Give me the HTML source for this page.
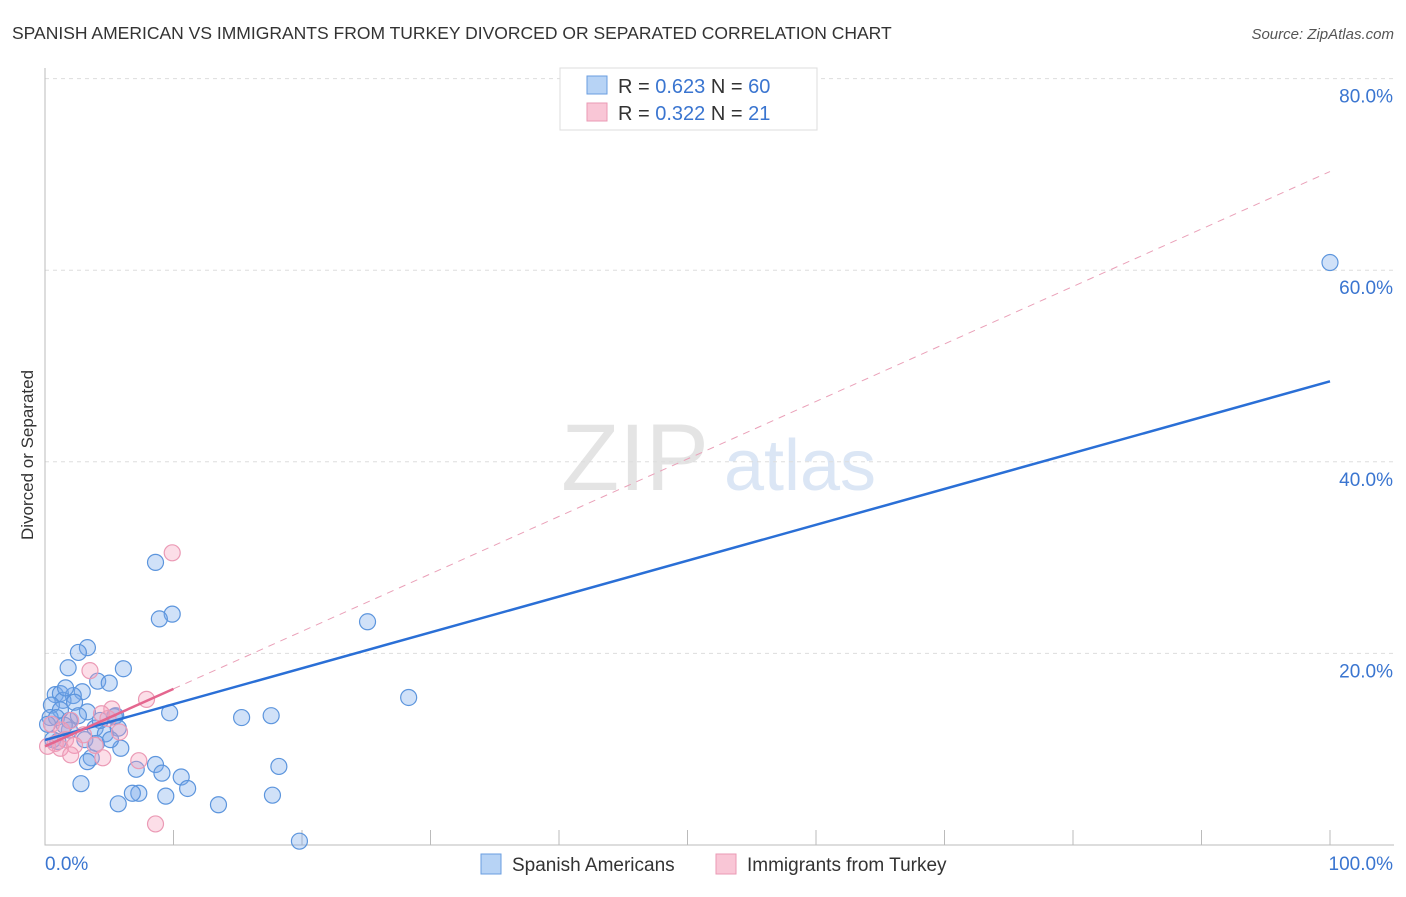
<!DOCTYPE html>
<html><head><meta charset="utf-8"><style>
body{margin:0;background:#fff;font-family:"Liberation Sans",sans-serif}
svg text{font-family:"Liberation Sans",sans-serif}
</style></head><body>
<svg width="1406" height="892" id="c">
<text x="12" y="39" font-size="17.5" fill="#333">SPANISH AMERICAN VS IMMIGRANTS FROM TURKEY DIVORCED OR SEPARATED CORRELATION CHART</text>
<text x="1394" y="39" font-size="15" fill="#555" font-style="italic" text-anchor="end">Source: ZipAtlas.com</text>
<text x="33" y="455" font-size="17" fill="#333" text-anchor="middle" transform="rotate(-90 33 455)">Divorced or Separated</text>
<g><text x="635" y="490" font-size="95" fill="#e4e4e4" font-family="Liberation Serif" text-anchor="middle">ZIP</text><text x="800" y="490" font-size="72" fill="#dbe6f5" text-anchor="middle">atlas</text></g>
<g id="grid"></g><g id="marks"></g>
<g>
<rect x="560" y="68" width="257" height="62" fill="#fff" stroke="#ddd"/>
<rect x="587" y="76" width="20" height="18" fill="#b7d3f5" stroke="#6a9ee0"/>
<rect x="587" y="103" width="20" height="18" fill="#f9c6d6" stroke="#ea9ab4"/>
<text x="618" y="93" font-size="20" fill="#333">R = <tspan fill="#3a75d0">0.623</tspan>   N = <tspan fill="#3a75d0">60</tspan></text>
<text x="618" y="120" font-size="20" fill="#333">R = <tspan fill="#3a75d0">0.322</tspan>   N =  <tspan fill="#3a75d0">21</tspan></text>
</g>
<g>
<rect x="481" y="854" width="20" height="20" fill="#b7d3f5" stroke="#6a9ee0"/>
<text x="512" y="871" font-size="19" fill="#333">Spanish Americans</text>
<rect x="716" y="854" width="20" height="20" fill="#f9c6d6" stroke="#ea9ab4"/>
<text x="747" y="871" font-size="19" fill="#333">Immigrants from Turkey</text>
</g>
</svg>
<script>
const yTicks=[20,40,60,80];
const yTickLabels=["20.0%","40.0%","60.0%","80.0%"];
const blueX=[8.6,9.9,8.9,25.1,3.3,2.6,1.8,6.1,4.1,5.0,2.9,0.8,1.2,2.2,1.4,0.5,2.3,1.2,3.3,0.4,0.9,5.5,9.7,15.3,17.6,28.3,5.4,1.9,3.9,4.7,5.7,3.1,4.0,5.9,3.6,3.3,8.6,7.1,9.1,10.6,18.2,2.8,11.1,7.3,6.8,9.4,5.7,13.5,17.7,19.8,100,1.9,0.2,4.3,1.0,1.6,5.1,0.6,1.5,2.6];
const blueY=[29.5,24.1,23.6,23.3,20.6,20.1,18.5,18.4,17.1,16.9,16.0,15.7,15.8,15.6,15.1,14.6,14.9,14.1,13.9,13.3,13.3,13.5,13.8,13.3,13.5,15.4,13.4,13.0,12.2,11.6,12.2,11.0,10.6,10.1,9.1,8.7,8.4,7.9,7.5,7.1,8.2,6.4,5.9,5.4,5.4,5.1,4.3,4.2,5.2,0.4,60.8,12.0,12.6,13.0,10.8,16.4,11.0,11.0,12.5,13.5];
const pinkX=[9.9,3.5,7.9,5.2,4.4,2.0,4.9,0.5,5.8,1.3,3.0,0.8,1.6,2.3,3.9,1.2,0.2,4.5,7.3,2.0,8.6];
const pinkY=[30.5,18.2,15.2,14.2,13.7,13.0,13.2,12.6,11.8,12.0,11.5,10.6,11.0,10.4,10.4,10.1,10.3,9.1,8.8,9.4,2.2];
const blueTrend=[10.96,48.4];
const pinkTrend=[10.3,0.6];
const X=v=>45+v*12.85, Y=v=>845-v*9.58;
const NS="http://www.w3.org/2000/svg";
function mk(p,t,a){const e=document.createElementNS(NS,t);for(const k in a)e.setAttribute(k,a[k]);p.appendChild(e);return e;}
const g=document.getElementById('grid'),m=document.getElementById('marks');
yTicks.forEach((t,i)=>{
 const l=mk(g,'line',{x1:45,x2:1394,y1:Y(t),y2:Y(t),stroke:'#ddd','stroke-dasharray':'4,4'});
 
 
 const tx=mk(g,'text',{x:1393,y:Y(t)+24,'font-size':19,fill:'#3a75d0','text-anchor':'end'});tx.textContent=yTickLabels[i];
 
 
});
const ax=mk(g,'path',{d:'M45 68V845H1394',fill:'none',stroke:'#bbb'});


for(let i=1;i<=10;i++){const t=mk(g,'line',{x1:X(i*10),x2:X(i*10),y1:830,y2:845,stroke:'#bbb'});
 
 }
const x0=mk(g,'text',{x:45,y:870,'font-size':19,fill:'#3a75d0'});x0.textContent='0.0%';


const x1=mk(g,'text',{x:1393,y:870,'font-size':19,fill:'#3a75d0','text-anchor':'end'});x1.textContent='100.0%';


blueX.forEach((v,i)=>{const c=mk(m,'circle',{cx:X(v),cy:Y(blueY[i]),r:8,fill:'rgba(120,170,235,0.35)',stroke:'#5c95dd','stroke-width':1.2});
 
 });
pinkX.forEach((v,i)=>{const c=mk(m,'circle',{cx:X(v),cy:Y(pinkY[i]),r:8,fill:'rgba(245,160,190,0.35)',stroke:'#eb9ab5','stroke-width':1.2});
 
 });
const pd=mk(m,'line',{x1:X(10),y1:Y(pinkTrend[0]+pinkTrend[1]*10),x2:X(100),y2:Y(pinkTrend[0]+pinkTrend[1]*100),stroke:'#eaa0b8','stroke-dasharray':'7,6','stroke-width':1});


const bt=mk(m,'line',{x1:X(0),y1:Y(blueTrend[0]),x2:X(100),y2:Y(blueTrend[1]),stroke:'#2a6fd6','stroke-width':2.5});


const pt=mk(m,'line',{x1:X(0),y1:Y(pinkTrend[0]),x2:X(10),y2:Y(pinkTrend[0]+pinkTrend[1]*10),stroke:'#e4668f','stroke-width':2.5});


</script>
</body></html>
